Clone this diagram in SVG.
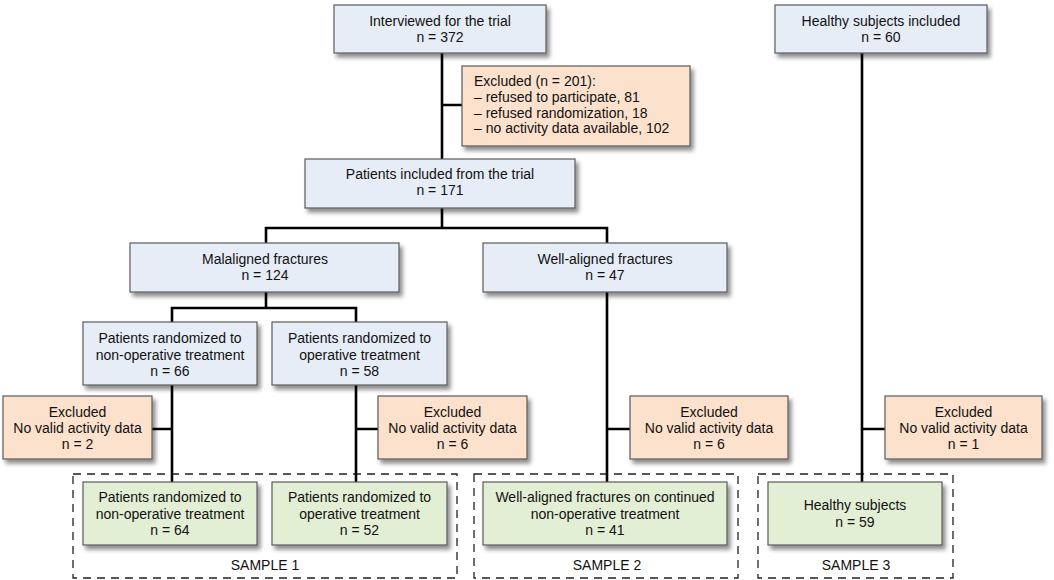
<svg xmlns="http://www.w3.org/2000/svg" width="1054" height="580" viewBox="0 0 1054 580">
<defs>
<filter id="sh" x="-10%" y="-20%" width="125%" height="150%">
<feDropShadow dx="3" dy="4" stdDeviation="2.2" flood-color="#000" flood-opacity="0.45"/>
</filter>
</defs>
<style>
text{font-family:"Liberation Sans",Arial,sans-serif;font-size:14px;fill:#111;text-anchor:middle}
.l{text-anchor:start}
.b{fill:#e7edf7;stroke:#5a5a5a;stroke-width:1.2;filter:url(#sh)}
.o{fill:#fce1cd;stroke:#5a5a5a;stroke-width:1.2;filter:url(#sh)}
.g{fill:#e3efd5;stroke:#5a5a5a;stroke-width:1.2;filter:url(#sh)}
.d{fill:none;stroke:#222;stroke-width:1.3;stroke-dasharray:8 6}
.c{fill:none;stroke:#000;stroke-width:2.6}
</style>
<rect width="1054" height="580" fill="#fff"/>
<g id="samples">
<rect class="d" x="73" y="474" width="384" height="104"/>
<text x="265" y="570">SAMPLE 1</text>
<rect class="d" x="474" y="474" width="264" height="104"/>
<text x="607" y="570">SAMPLE 2</text>
<rect class="d" x="758" y="474" width="195" height="104"/>
<text x="856" y="570">SAMPLE 3</text>
</g>
<g id="connectors">
<path class="c" d="M442 53V159M442 105H462"/>
<path class="c" d="M442 208V228M266 243V228H607V243"/>
<path class="c" d="M266 292V308M172 322V308H356V322"/>
<path class="c" d="M172 385V482M152 429H172"/>
<path class="c" d="M356 385V482M356 429H378"/>
<path class="c" d="M607 292V482M607 429H630"/>
<path class="c" d="M862 53V482M862 429H885"/>
</g>
<g id="interviewed">
<rect class="b" x="334" y="5" width="212" height="48"/>
<text x="440" y="26">Interviewed for the trial</text>
<text x="440" y="42">n = 372</text>
</g>
<g id="excluded-main">
<rect class="o" x="462" y="66" width="228" height="80"/>
<text class="l" x="474" y="86">Excluded (n = 201):</text>
<text class="l" x="474" y="102">– refused to participate, 81</text>
<text class="l" x="474" y="117.5">– refused randomization, 18</text>
<text class="l" x="474" y="133">– no activity data available, 102</text>
</g>
<g id="healthy-included">
<rect class="b" x="775" y="5" width="212" height="48"/>
<text x="881" y="26">Healthy subjects included</text>
<text x="881" y="42">n = 60</text>
</g>
<g id="patients-included">
<rect class="b" x="305" y="159" width="270" height="49"/>
<text x="440" y="179">Patients included from the trial</text>
<text x="440" y="195">n = 171</text>
</g>
<g id="malaligned">
<rect class="b" x="130" y="243" width="269" height="49"/>
<text x="265" y="264">Malaligned fractures</text>
<text x="265" y="280">n = 124</text>
</g>
<g id="well-aligned">
<rect class="b" x="483" y="243" width="244" height="49"/>
<text x="605" y="264">Well-aligned fractures</text>
<text x="605" y="280">n = 47</text>
</g>
<g id="rand-nonop">
<rect class="b" x="83" y="322" width="174" height="63"/>
<text x="170" y="343">Patients randomized to</text>
<text x="170" y="359.5">non-operative treatment</text>
<text x="170" y="376">n = 66</text>
</g>
<g id="rand-op">
<rect class="b" x="272" y="322" width="175" height="63"/>
<text x="359.5" y="343">Patients randomized to</text>
<text x="359.5" y="359.5">operative treatment</text>
<text x="359.5" y="376">n = 58</text>
</g>
<g id="excl-1">
<rect class="o" x="3" y="396" width="149" height="63"/>
<text x="77.5" y="417">Excluded</text>
<text x="77.5" y="433">No valid activity data</text>
<text x="77.5" y="449">n = 2</text>
</g>
<g id="excl-2">
<rect class="o" x="378" y="396" width="149" height="63"/>
<text x="452.5" y="417">Excluded</text>
<text x="452.5" y="433">No valid activity data</text>
<text x="452.5" y="449">n = 6</text>
</g>
<g id="excl-3">
<rect class="o" x="630" y="396" width="158" height="63"/>
<text x="709" y="417">Excluded</text>
<text x="709" y="433">No valid activity data</text>
<text x="709" y="449">n = 6</text>
</g>
<g id="excl-4">
<rect class="o" x="885" y="396" width="157" height="63"/>
<text x="963.5" y="417">Excluded</text>
<text x="963.5" y="433">No valid activity data</text>
<text x="963.5" y="449">n = 1</text>
</g>
<g id="final-nonop">
<rect class="g" x="83" y="482" width="174" height="63"/>
<text x="170" y="502">Patients randomized to</text>
<text x="170" y="518.5">non-operative treatment</text>
<text x="170" y="535">n = 64</text>
</g>
<g id="final-op">
<rect class="g" x="272" y="482" width="175" height="63"/>
<text x="359.5" y="502">Patients randomized to</text>
<text x="359.5" y="518.5">operative treatment</text>
<text x="359.5" y="535">n = 52</text>
</g>
<g id="final-well">
<rect class="g" x="483" y="482" width="244" height="63"/>
<text x="605" y="502">Well-aligned fractures on continued</text>
<text x="605" y="518.5">non-operative treatment</text>
<text x="605" y="535">n = 41</text>
</g>
<g id="final-healthy">
<rect class="g" x="768" y="482" width="174" height="63"/>
<text x="855" y="510">Healthy subjects</text>
<text x="855" y="527">n = 59</text>
</g>
</svg>
